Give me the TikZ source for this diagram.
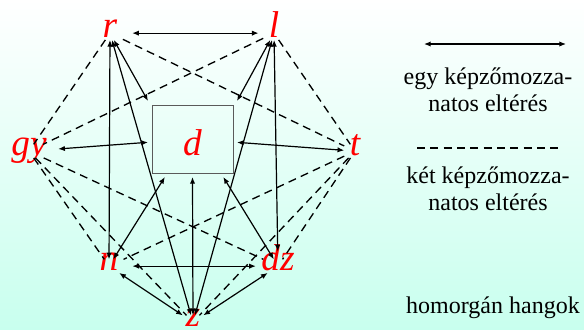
\documentclass[tikz,border=0pt]{standalone}
\usepackage{fontspec}
\setmainfont{Liberation Serif}
\usetikzlibrary{arrows.meta}
\definecolor{bgcyan}{RGB}{200,255,238}
\definecolor{boxgray}{RGB}{90,90,90}

\begin{document}
\begin{tikzpicture}[x=0.75pt,y=-0.75pt]
\tikzset{
  sound/.style={text=red,font=\fontsize{28}{32}\selectfont\itshape,anchor=base,
    inner xsep=4pt,inner ysep=1pt,text height=0.68em,text depth=0.1em},
  dbox/.style={draw=boxgray,thin,minimum width=60.75pt,minimum height=51pt,outer sep=3pt,
    text=red,font=\fontsize{28}{32}\selectfont\itshape,text height=24pt,text depth=0pt},
  twoway/.style={{Latex[length=5pt,width=4pt]}-{Latex[length=5pt,width=4pt]},line width=0.9pt},
  twohop/.style={dash pattern=on 6pt off 4pt,line width=1pt},
  legend/.style={font=\fontsize{18}{20.25}\selectfont,align=center}
}
\shade[top color=white,bottom color=bgcyan] (0,0) rectangle (584,329);
\useasboundingbox (0,0) rectangle (584,329);
% sounds
\node[sound] (s_r) at (110,37) {r};
\node[sound] (s_l) at (274,37) {l};
\node[sound] (s_gy) at (29,155) {gy};
\node[sound] (s_t) at (355,155) {t};
\node[sound] (s_n) at (109,270) {n};
\node[sound] (s_dz) at (278,270) {dz};
\node[sound] (s_z) at (193,326) {z};
\node[dbox] (s_d) at (192.5,139) {d};
% one feature apart
\draw[twoway,shorten <=7pt,shorten >=3.5pt] (s_r) -- (s_l);
\draw[twoway] (s_r) -- (s_n);
\draw[twoway] (s_r) -- (s_d.north west);
\draw[twoway] (s_r) -- (s_z);
\draw[twoway,shorten >=6pt] (s_l) -- (s_dz);
\draw[twoway] (s_l) -- (s_d.north east);
\draw[twoway] (s_l) -- (s_z);
\draw[twoway,shorten <=4.5pt] (s_gy) -- (s_d);
\draw[twoway] (s_t) -- (s_d);
\draw[twoway] (s_n) -- (s_d.234);
\draw[twoway] (s_dz) -- (s_d.309);
\draw[twoway] (s_z) -- (s_d.south);
\draw[twoway,shorten <=6.3pt] (s_n) -- (s_dz);
\draw[twoway] (s_n) -- (s_z);
\draw[twoway] (s_dz) -- (s_z);
% two features apart
\draw[twohop] (s_r) -- (s_gy);
\draw[twohop] (s_r) -- (s_t);
\draw[twohop] (s_l) -- (s_gy);
\draw[twohop] (s_l) -- (s_t);
\draw[twohop] (s_gy) -- (s_n);
\draw[twohop] (s_gy) -- (s_z);
\draw[twohop] (s_gy) -- (s_dz);
\draw[twohop] (s_t) -- (s_n);
\draw[twohop] (s_t) -- (s_z);
\draw[twohop] (s_t) -- (s_dz);
% legend
\coordinate (one_a) at (424,44);
\coordinate (one_b) at (566,44);
\draw[twoway] (one_a) -- (one_b);
\node[legend] (one_text) at (488,89.5) {egy képzőmozza-\\natos eltérés};
\coordinate (two_a) at (417,148);
\coordinate (two_b) at (560,148);
\draw[twohop] (two_a) -- (two_b);
\node[legend] (two_text) at (488,188.5) {két képzőmozza-\\natos eltérés};
\node[legend,anchor=base] (hom_text) at (493,313) {homorgán hangok};
\end{tikzpicture}
\end{document}
